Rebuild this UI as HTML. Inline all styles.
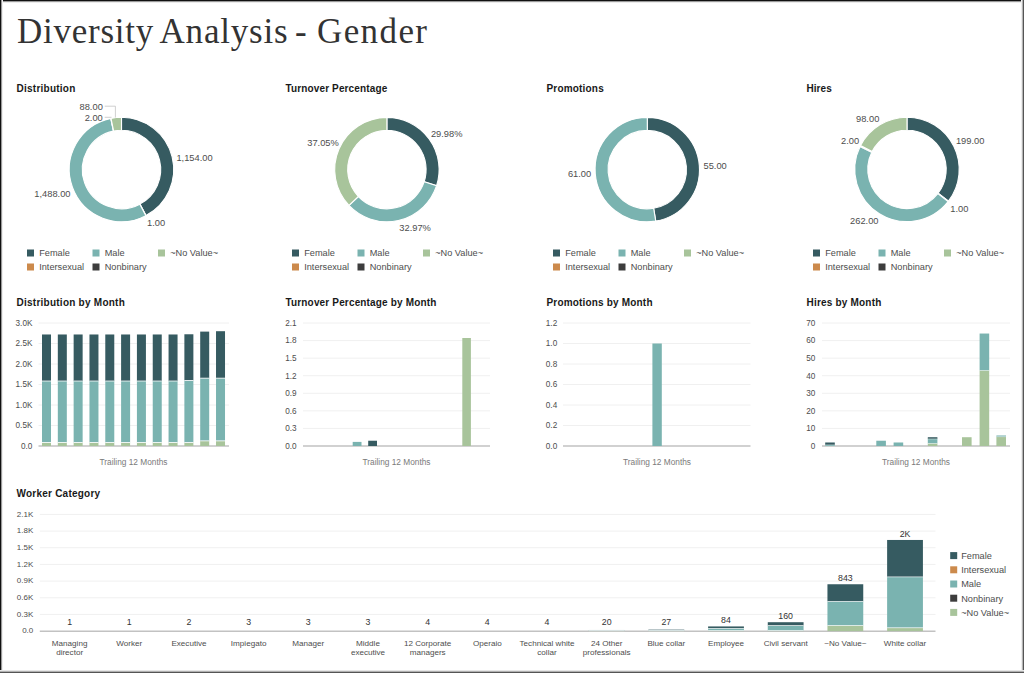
<!DOCTYPE html>
<html><head><meta charset="utf-8"><style>
html,body{margin:0;padding:0;background:#fff;}
body{width:1024px;height:673px;overflow:hidden;position:relative;font-family:"Liberation Sans", sans-serif;}
svg{position:absolute;left:0;top:0;}
svg text{font-family:"Liberation Sans", sans-serif;}
.title{position:absolute;left:17px;top:11.5px;font-family:"Liberation Serif",serif;font-size:35px;color:#333;white-space:nowrap;letter-spacing:0.75px;}
.b{position:absolute;}
</style></head><body>
<div class="title" style="left:17px">Diversity</div>
<div class="title" style="left:159.5px;letter-spacing:0.8px">Analysis</div>
<div class="title" style="left:295px">-</div>
<div class="title" style="left:317px;letter-spacing:1.4px">Gender</div>
<svg width="1024" height="673" viewBox="0 0 1024 673">
<text x="16.5" y="91.5" font-size="10" fill="#191919" text-anchor="start" font-weight="bold" textLength="58.8" lengthAdjust="spacing">Distribution</text>
<text x="285.5" y="91.5" font-size="10" fill="#191919" text-anchor="start" font-weight="bold" textLength="101.7" lengthAdjust="spacing">Turnover Percentage</text>
<text x="546.5" y="91.5" font-size="10" fill="#191919" text-anchor="start" font-weight="bold" textLength="57.199999999999996" lengthAdjust="spacing">Promotions</text>
<text x="806.5" y="91.5" font-size="10" fill="#191919" text-anchor="start" font-weight="bold" textLength="25.2" lengthAdjust="spacing">Hires</text>
<text x="16.5" y="305.5" font-size="10" fill="#191919" text-anchor="start" font-weight="bold" textLength="108.30000000000001" lengthAdjust="spacing">Distribution by Month</text>
<text x="285.5" y="305.5" font-size="10" fill="#191919" text-anchor="start" font-weight="bold" textLength="150.8" lengthAdjust="spacing">Turnover Percentage by Month</text>
<text x="546.5" y="305.5" font-size="10" fill="#191919" text-anchor="start" font-weight="bold" textLength="106.0" lengthAdjust="spacing">Promotions by Month</text>
<text x="806.5" y="305.5" font-size="10" fill="#191919" text-anchor="start" font-weight="bold" textLength="74.80000000000001" lengthAdjust="spacing">Hires by Month</text>
<text x="16.5" y="497" font-size="10" fill="#191919" text-anchor="start" font-weight="bold" textLength="83.60000000000001" lengthAdjust="spacing">Worker Category</text>
<path d="M121.50,117.30 A52.2,52.2 0 0 1 146.00,215.59 L139.90,204.11 A39.2,39.2 0 0 0 121.50,130.30 Z" fill="#365b61" stroke="#fff" stroke-width="1.1"/>
<path d="M146.00,215.59 A52.2,52.2 0 0 1 145.89,215.65 L139.82,204.16 A39.2,39.2 0 0 0 139.90,204.11 Z" fill="#cc8a4c" stroke="#fff" stroke-width="1.1"/>
<path d="M145.89,215.65 A52.2,52.2 0 1 1 110.78,118.41 L113.45,131.14 A39.2,39.2 0 1 0 139.82,204.16 Z" fill="#7ab3b0" stroke="#fff" stroke-width="1.1"/>
<path d="M110.78,118.41 A52.2,52.2 0 0 1 111.01,118.36 L113.62,131.10 A39.2,39.2 0 0 0 113.45,131.14 Z" fill="#3d3d3d" stroke="#fff" stroke-width="1.1"/>
<path d="M111.01,118.36 A52.2,52.2 0 0 1 121.50,117.30 L121.50,130.30 A39.2,39.2 0 0 0 113.62,131.10 Z" fill="#a8c49b" stroke="#fff" stroke-width="1.1"/>
<path d="M386.90,117.40 A52.2,52.2 0 0 1 436.57,185.67 L424.20,181.67 A39.2,39.2 0 0 0 386.90,130.40 Z" fill="#365b61" stroke="#fff" stroke-width="1.1"/>
<path d="M436.57,185.67 A52.2,52.2 0 0 1 348.96,205.45 L358.41,196.52 A39.2,39.2 0 0 0 424.20,181.67 Z" fill="#7ab3b0" stroke="#fff" stroke-width="1.1"/>
<path d="M348.96,205.45 A52.2,52.2 0 0 1 386.90,117.40 L386.90,130.40 A39.2,39.2 0 0 0 358.41,196.52 Z" fill="#a8c49b" stroke="#fff" stroke-width="1.1"/>
<path d="M647.30,117.40 A52.2,52.2 0 0 1 655.75,221.11 L653.64,208.28 A39.2,39.2 0 0 0 647.30,130.40 Z" fill="#365b61" stroke="#fff" stroke-width="1.1"/>
<path d="M655.75,221.11 A52.2,52.2 0 1 1 647.30,117.40 L647.30,130.40 A39.2,39.2 0 1 0 653.64,208.28 Z" fill="#7ab3b0" stroke="#fff" stroke-width="1.1"/>
<path d="M907.00,117.20 A52.2,52.2 0 0 1 948.43,201.16 L938.11,193.25 A39.2,39.2 0 0 0 907.00,130.20 Z" fill="#365b61" stroke="#fff" stroke-width="1.1"/>
<path d="M948.43,201.16 A52.2,52.2 0 0 1 948.07,201.62 L937.84,193.60 A39.2,39.2 0 0 0 938.11,193.25 Z" fill="#cc8a4c" stroke="#fff" stroke-width="1.1"/>
<path d="M948.07,201.62 A52.2,52.2 0 0 1 860.06,146.56 L871.75,152.25 A39.2,39.2 0 0 0 937.84,193.60 Z" fill="#7ab3b0" stroke="#fff" stroke-width="1.1"/>
<path d="M860.06,146.56 A52.2,52.2 0 0 1 860.58,145.52 L872.14,151.47 A39.2,39.2 0 0 0 871.75,152.25 Z" fill="#3d3d3d" stroke="#fff" stroke-width="1.1"/>
<path d="M860.58,145.52 A52.2,52.2 0 0 1 907.00,117.20 L907.00,130.20 A39.2,39.2 0 0 0 872.14,151.47 Z" fill="#a8c49b" stroke="#fff" stroke-width="1.1"/>
<rect x="27.00" y="249.50" width="7.00" height="7.00" fill="#365b61"/>
<text x="39.2" y="256.3" font-size="9.2" fill="#4d4d4d" text-anchor="start" font-weight="normal" >Female</text>
<rect x="92.50" y="249.50" width="7.00" height="7.00" fill="#7ab3b0"/>
<text x="104.7" y="256.3" font-size="9.2" fill="#4d4d4d" text-anchor="start" font-weight="normal" >Male</text>
<rect x="158.00" y="249.50" width="7.00" height="7.00" fill="#a8c49b"/>
<text x="170.2" y="256.3" font-size="9.2" fill="#4d4d4d" text-anchor="start" font-weight="normal" >~No Value~</text>
<rect x="27.00" y="263.50" width="7.00" height="7.00" fill="#cc8a4c"/>
<text x="39.2" y="270.3" font-size="9.2" fill="#4d4d4d" text-anchor="start" font-weight="normal" >Intersexual</text>
<rect x="92.50" y="263.50" width="7.00" height="7.00" fill="#3d3d3d"/>
<text x="104.7" y="270.3" font-size="9.2" fill="#4d4d4d" text-anchor="start" font-weight="normal" >Nonbinary</text>
<rect x="292.00" y="249.50" width="7.00" height="7.00" fill="#365b61"/>
<text x="304.2" y="256.3" font-size="9.2" fill="#4d4d4d" text-anchor="start" font-weight="normal" >Female</text>
<rect x="357.50" y="249.50" width="7.00" height="7.00" fill="#7ab3b0"/>
<text x="369.7" y="256.3" font-size="9.2" fill="#4d4d4d" text-anchor="start" font-weight="normal" >Male</text>
<rect x="423.00" y="249.50" width="7.00" height="7.00" fill="#a8c49b"/>
<text x="435.2" y="256.3" font-size="9.2" fill="#4d4d4d" text-anchor="start" font-weight="normal" >~No Value~</text>
<rect x="292.00" y="263.50" width="7.00" height="7.00" fill="#cc8a4c"/>
<text x="304.2" y="270.3" font-size="9.2" fill="#4d4d4d" text-anchor="start" font-weight="normal" >Intersexual</text>
<rect x="357.50" y="263.50" width="7.00" height="7.00" fill="#3d3d3d"/>
<text x="369.7" y="270.3" font-size="9.2" fill="#4d4d4d" text-anchor="start" font-weight="normal" >Nonbinary</text>
<rect x="553.00" y="249.50" width="7.00" height="7.00" fill="#365b61"/>
<text x="565.2" y="256.3" font-size="9.2" fill="#4d4d4d" text-anchor="start" font-weight="normal" >Female</text>
<rect x="618.50" y="249.50" width="7.00" height="7.00" fill="#7ab3b0"/>
<text x="630.7" y="256.3" font-size="9.2" fill="#4d4d4d" text-anchor="start" font-weight="normal" >Male</text>
<rect x="684.00" y="249.50" width="7.00" height="7.00" fill="#a8c49b"/>
<text x="696.2" y="256.3" font-size="9.2" fill="#4d4d4d" text-anchor="start" font-weight="normal" >~No Value~</text>
<rect x="553.00" y="263.50" width="7.00" height="7.00" fill="#cc8a4c"/>
<text x="565.2" y="270.3" font-size="9.2" fill="#4d4d4d" text-anchor="start" font-weight="normal" >Intersexual</text>
<rect x="618.50" y="263.50" width="7.00" height="7.00" fill="#3d3d3d"/>
<text x="630.7" y="270.3" font-size="9.2" fill="#4d4d4d" text-anchor="start" font-weight="normal" >Nonbinary</text>
<rect x="813.00" y="249.50" width="7.00" height="7.00" fill="#365b61"/>
<text x="825.2" y="256.3" font-size="9.2" fill="#4d4d4d" text-anchor="start" font-weight="normal" >Female</text>
<rect x="878.50" y="249.50" width="7.00" height="7.00" fill="#7ab3b0"/>
<text x="890.7" y="256.3" font-size="9.2" fill="#4d4d4d" text-anchor="start" font-weight="normal" >Male</text>
<rect x="944.00" y="249.50" width="7.00" height="7.00" fill="#a8c49b"/>
<text x="956.2" y="256.3" font-size="9.2" fill="#4d4d4d" text-anchor="start" font-weight="normal" >~No Value~</text>
<rect x="813.00" y="263.50" width="7.00" height="7.00" fill="#cc8a4c"/>
<text x="825.2" y="270.3" font-size="9.2" fill="#4d4d4d" text-anchor="start" font-weight="normal" >Intersexual</text>
<rect x="878.50" y="263.50" width="7.00" height="7.00" fill="#3d3d3d"/>
<text x="890.7" y="270.3" font-size="9.2" fill="#4d4d4d" text-anchor="start" font-weight="normal" >Nonbinary</text>
<text x="102.8" y="110.10000000000001" font-size="9.3" fill="#4d4d4d" text-anchor="end" font-weight="normal" >88.00</text>
<text x="102.8" y="120.9" font-size="9.3" fill="#4d4d4d" text-anchor="end" font-weight="normal" >2.00</text>
<polyline points="104.7,106.2 115.4,106.2 115.4,117.5" fill="none" stroke="#bbb" stroke-width="0.7"/>
<polyline points="104.7,117.3 111.5,117.3" fill="none" stroke="#bbb" stroke-width="0.7"/>
<text x="176.4" y="160.5" font-size="9.3" fill="#4d4d4d" text-anchor="start" font-weight="normal" >1,154.00</text>
<text x="70.5" y="197.20000000000002" font-size="9.3" fill="#4d4d4d" text-anchor="end" font-weight="normal" >1,488.00</text>
<text x="147.1" y="226.3" font-size="9.3" fill="#4d4d4d" text-anchor="start" font-weight="normal" >1.00</text>
<text x="430.9" y="136.8" font-size="9.3" fill="#4d4d4d" text-anchor="start" font-weight="normal" >29.98%</text>
<text x="338.8" y="146.20000000000002" font-size="9.3" fill="#4d4d4d" text-anchor="end" font-weight="normal" >37.05%</text>
<text x="399.3" y="231.4" font-size="9.3" fill="#4d4d4d" text-anchor="start" font-weight="normal" >32.97%</text>
<text x="703.5" y="168.6" font-size="9.3" fill="#4d4d4d" text-anchor="start" font-weight="normal" >55.00</text>
<text x="591.2" y="177.4" font-size="9.3" fill="#4d4d4d" text-anchor="end" font-weight="normal" >61.00</text>
<text x="879.3" y="122.10000000000001" font-size="9.3" fill="#4d4d4d" text-anchor="end" font-weight="normal" >98.00</text>
<text x="859.1" y="144.0" font-size="9.3" fill="#4d4d4d" text-anchor="end" font-weight="normal" >2.00</text>
<text x="955.9" y="144.4" font-size="9.3" fill="#4d4d4d" text-anchor="start" font-weight="normal" >199.00</text>
<text x="950.3" y="212.0" font-size="9.3" fill="#4d4d4d" text-anchor="start" font-weight="normal" >1.00</text>
<text x="878.5" y="224.1" font-size="9.3" fill="#4d4d4d" text-anchor="end" font-weight="normal" >262.00</text>
<text x="32.4" y="448.8" font-size="8.2" fill="#4d4d4d" text-anchor="end" font-weight="normal" >0.0</text>
<line x1="38.5" y1="425.5" x2="229" y2="425.5" stroke="#f0f0f0" stroke-width="1"/>
<text x="32.4" y="428.3" font-size="8.2" fill="#4d4d4d" text-anchor="end" font-weight="normal" >0.5K</text>
<line x1="38.5" y1="405.0" x2="229" y2="405.0" stroke="#f0f0f0" stroke-width="1"/>
<text x="32.4" y="407.8" font-size="8.2" fill="#4d4d4d" text-anchor="end" font-weight="normal" >1.0K</text>
<line x1="38.5" y1="384.5" x2="229" y2="384.5" stroke="#f0f0f0" stroke-width="1"/>
<text x="32.4" y="387.3" font-size="8.2" fill="#4d4d4d" text-anchor="end" font-weight="normal" >1.5K</text>
<line x1="38.5" y1="364.0" x2="229" y2="364.0" stroke="#f0f0f0" stroke-width="1"/>
<text x="32.4" y="366.8" font-size="8.2" fill="#4d4d4d" text-anchor="end" font-weight="normal" >2.0K</text>
<line x1="38.5" y1="343.5" x2="229" y2="343.5" stroke="#f0f0f0" stroke-width="1"/>
<text x="32.4" y="346.3" font-size="8.2" fill="#4d4d4d" text-anchor="end" font-weight="normal" >2.5K</text>
<line x1="38.5" y1="323.0" x2="229" y2="323.0" stroke="#f0f0f0" stroke-width="1"/>
<text x="32.4" y="325.8" font-size="8.2" fill="#4d4d4d" text-anchor="end" font-weight="normal" >3.0K</text>
<line x1="38.5" y1="446" x2="229" y2="446" stroke="#c2c2c2" stroke-width="1.6"/>
<rect x="42.00" y="442.51" width="9.00" height="3.49" fill="#a8c49b"/>
<rect x="42.00" y="381.01" width="9.00" height="61.50" fill="#7ab3b0"/>
<rect x="42.00" y="442.12" width="9.00" height="0.80" fill="#fff"/>
<rect x="42.00" y="334.48" width="9.00" height="46.54" fill="#365b61"/>
<rect x="42.00" y="380.62" width="9.00" height="0.80" fill="#fff"/>
<rect x="57.82" y="442.51" width="9.00" height="3.49" fill="#a8c49b"/>
<rect x="57.82" y="381.01" width="9.00" height="61.50" fill="#7ab3b0"/>
<rect x="57.82" y="442.12" width="9.00" height="0.80" fill="#fff"/>
<rect x="57.82" y="334.48" width="9.00" height="46.54" fill="#365b61"/>
<rect x="57.82" y="380.62" width="9.00" height="0.80" fill="#fff"/>
<rect x="73.64" y="442.51" width="9.00" height="3.49" fill="#a8c49b"/>
<rect x="73.64" y="381.01" width="9.00" height="61.50" fill="#7ab3b0"/>
<rect x="73.64" y="442.12" width="9.00" height="0.80" fill="#fff"/>
<rect x="73.64" y="334.48" width="9.00" height="46.54" fill="#365b61"/>
<rect x="73.64" y="380.62" width="9.00" height="0.80" fill="#fff"/>
<rect x="89.46" y="442.51" width="9.00" height="3.49" fill="#a8c49b"/>
<rect x="89.46" y="381.01" width="9.00" height="61.50" fill="#7ab3b0"/>
<rect x="89.46" y="442.12" width="9.00" height="0.80" fill="#fff"/>
<rect x="89.46" y="334.48" width="9.00" height="46.54" fill="#365b61"/>
<rect x="89.46" y="380.62" width="9.00" height="0.80" fill="#fff"/>
<rect x="105.28" y="442.51" width="9.00" height="3.49" fill="#a8c49b"/>
<rect x="105.28" y="381.01" width="9.00" height="61.50" fill="#7ab3b0"/>
<rect x="105.28" y="442.12" width="9.00" height="0.80" fill="#fff"/>
<rect x="105.28" y="334.48" width="9.00" height="46.54" fill="#365b61"/>
<rect x="105.28" y="380.62" width="9.00" height="0.80" fill="#fff"/>
<rect x="121.10" y="442.51" width="9.00" height="3.49" fill="#a8c49b"/>
<rect x="121.10" y="381.01" width="9.00" height="61.50" fill="#7ab3b0"/>
<rect x="121.10" y="442.12" width="9.00" height="0.80" fill="#fff"/>
<rect x="121.10" y="334.48" width="9.00" height="46.54" fill="#365b61"/>
<rect x="121.10" y="380.62" width="9.00" height="0.80" fill="#fff"/>
<rect x="136.92" y="442.51" width="9.00" height="3.49" fill="#a8c49b"/>
<rect x="136.92" y="381.01" width="9.00" height="61.50" fill="#7ab3b0"/>
<rect x="136.92" y="442.12" width="9.00" height="0.80" fill="#fff"/>
<rect x="136.92" y="334.48" width="9.00" height="46.54" fill="#365b61"/>
<rect x="136.92" y="380.62" width="9.00" height="0.80" fill="#fff"/>
<rect x="152.74" y="442.51" width="9.00" height="3.49" fill="#a8c49b"/>
<rect x="152.74" y="381.01" width="9.00" height="61.50" fill="#7ab3b0"/>
<rect x="152.74" y="442.12" width="9.00" height="0.80" fill="#fff"/>
<rect x="152.74" y="334.48" width="9.00" height="46.54" fill="#365b61"/>
<rect x="152.74" y="380.62" width="9.00" height="0.80" fill="#fff"/>
<rect x="168.56" y="442.51" width="9.00" height="3.49" fill="#a8c49b"/>
<rect x="168.56" y="381.01" width="9.00" height="61.50" fill="#7ab3b0"/>
<rect x="168.56" y="442.12" width="9.00" height="0.80" fill="#fff"/>
<rect x="168.56" y="334.48" width="9.00" height="46.54" fill="#365b61"/>
<rect x="168.56" y="380.62" width="9.00" height="0.80" fill="#fff"/>
<rect x="184.38" y="442.51" width="9.00" height="3.49" fill="#a8c49b"/>
<rect x="184.38" y="380.40" width="9.00" height="62.12" fill="#7ab3b0"/>
<rect x="184.38" y="442.12" width="9.00" height="0.80" fill="#fff"/>
<rect x="184.38" y="334.27" width="9.00" height="46.12" fill="#365b61"/>
<rect x="184.38" y="380.00" width="9.00" height="0.80" fill="#fff"/>
<rect x="200.20" y="440.88" width="9.00" height="5.12" fill="#a8c49b"/>
<rect x="200.20" y="378.14" width="9.00" height="62.73" fill="#7ab3b0"/>
<rect x="200.20" y="440.48" width="9.00" height="0.80" fill="#fff"/>
<rect x="200.20" y="331.61" width="9.00" height="46.54" fill="#365b61"/>
<rect x="200.20" y="377.75" width="9.00" height="0.80" fill="#fff"/>
<rect x="216.02" y="440.88" width="9.00" height="5.12" fill="#a8c49b"/>
<rect x="216.02" y="378.14" width="9.00" height="62.73" fill="#7ab3b0"/>
<rect x="216.02" y="440.48" width="9.00" height="0.80" fill="#fff"/>
<rect x="216.02" y="331.20" width="9.00" height="46.95" fill="#365b61"/>
<rect x="216.02" y="377.75" width="9.00" height="0.80" fill="#fff"/>
<text x="133.5" y="465" font-size="8.3" fill="#7a7a7a" text-anchor="middle" font-weight="normal" >Trailing 12 Months</text>
<text x="296.6" y="448.8" font-size="8.2" fill="#4d4d4d" text-anchor="end" font-weight="normal" >0.0</text>
<line x1="303" y1="428.42857142857144" x2="490" y2="428.42857142857144" stroke="#f0f0f0" stroke-width="1"/>
<text x="296.6" y="431.22857142857146" font-size="8.2" fill="#4d4d4d" text-anchor="end" font-weight="normal" >0.3</text>
<line x1="303" y1="410.85714285714283" x2="490" y2="410.85714285714283" stroke="#f0f0f0" stroke-width="1"/>
<text x="296.6" y="413.65714285714284" font-size="8.2" fill="#4d4d4d" text-anchor="end" font-weight="normal" >0.6</text>
<line x1="303" y1="393.2857142857143" x2="490" y2="393.2857142857143" stroke="#f0f0f0" stroke-width="1"/>
<text x="296.6" y="396.0857142857143" font-size="8.2" fill="#4d4d4d" text-anchor="end" font-weight="normal" >0.9</text>
<line x1="303" y1="375.7142857142857" x2="490" y2="375.7142857142857" stroke="#f0f0f0" stroke-width="1"/>
<text x="296.6" y="378.51428571428573" font-size="8.2" fill="#4d4d4d" text-anchor="end" font-weight="normal" >1.2</text>
<line x1="303" y1="358.1428571428571" x2="490" y2="358.1428571428571" stroke="#f0f0f0" stroke-width="1"/>
<text x="296.6" y="360.9428571428571" font-size="8.2" fill="#4d4d4d" text-anchor="end" font-weight="normal" >1.5</text>
<line x1="303" y1="340.57142857142856" x2="490" y2="340.57142857142856" stroke="#f0f0f0" stroke-width="1"/>
<text x="296.6" y="343.37142857142857" font-size="8.2" fill="#4d4d4d" text-anchor="end" font-weight="normal" >1.8</text>
<line x1="303" y1="323.0" x2="490" y2="323.0" stroke="#f0f0f0" stroke-width="1"/>
<text x="296.6" y="325.8" font-size="8.2" fill="#4d4d4d" text-anchor="end" font-weight="normal" >2.1</text>
<line x1="303" y1="446" x2="490" y2="446" stroke="#c2c2c2" stroke-width="1.6"/>
<rect x="352.70" y="441.90" width="8.80" height="4.10" fill="#7ab3b0"/>
<rect x="368.20" y="440.73" width="8.80" height="5.27" fill="#365b61"/>
<rect x="462.30" y="338.00" width="8.60" height="108.00" fill="#a8c49b"/>
<text x="396.5" y="465" font-size="8.3" fill="#7a7a7a" text-anchor="middle" font-weight="normal" >Trailing 12 Months</text>
<text x="557.2" y="448.8" font-size="8.2" fill="#4d4d4d" text-anchor="end" font-weight="normal" >0.0</text>
<line x1="563" y1="425.5" x2="750.5" y2="425.5" stroke="#f0f0f0" stroke-width="1"/>
<text x="557.2" y="428.3" font-size="8.2" fill="#4d4d4d" text-anchor="end" font-weight="normal" >0.2</text>
<line x1="563" y1="405.0" x2="750.5" y2="405.0" stroke="#f0f0f0" stroke-width="1"/>
<text x="557.2" y="407.8" font-size="8.2" fill="#4d4d4d" text-anchor="end" font-weight="normal" >0.4</text>
<line x1="563" y1="384.5" x2="750.5" y2="384.5" stroke="#f0f0f0" stroke-width="1"/>
<text x="557.2" y="387.3" font-size="8.2" fill="#4d4d4d" text-anchor="end" font-weight="normal" >0.6</text>
<line x1="563" y1="364.0" x2="750.5" y2="364.0" stroke="#f0f0f0" stroke-width="1"/>
<text x="557.2" y="366.8" font-size="8.2" fill="#4d4d4d" text-anchor="end" font-weight="normal" >0.8</text>
<line x1="563" y1="343.5" x2="750.5" y2="343.5" stroke="#f0f0f0" stroke-width="1"/>
<text x="557.2" y="346.3" font-size="8.2" fill="#4d4d4d" text-anchor="end" font-weight="normal" >1.0</text>
<line x1="563" y1="323.0" x2="750.5" y2="323.0" stroke="#f0f0f0" stroke-width="1"/>
<text x="557.2" y="325.8" font-size="8.2" fill="#4d4d4d" text-anchor="end" font-weight="normal" >1.2</text>
<line x1="563" y1="446" x2="750.5" y2="446" stroke="#c2c2c2" stroke-width="1.6"/>
<rect x="652.40" y="343.50" width="9.40" height="102.50" fill="#7ab3b0"/>
<text x="657" y="465" font-size="8.3" fill="#7a7a7a" text-anchor="middle" font-weight="normal" >Trailing 12 Months</text>
<text x="815.4" y="448.8" font-size="8.2" fill="#4d4d4d" text-anchor="end" font-weight="normal" >0</text>
<line x1="822" y1="428.42857142857144" x2="1010" y2="428.42857142857144" stroke="#f0f0f0" stroke-width="1"/>
<text x="815.4" y="431.22857142857146" font-size="8.2" fill="#4d4d4d" text-anchor="end" font-weight="normal" >10</text>
<line x1="822" y1="410.85714285714283" x2="1010" y2="410.85714285714283" stroke="#f0f0f0" stroke-width="1"/>
<text x="815.4" y="413.65714285714284" font-size="8.2" fill="#4d4d4d" text-anchor="end" font-weight="normal" >20</text>
<line x1="822" y1="393.2857142857143" x2="1010" y2="393.2857142857143" stroke="#f0f0f0" stroke-width="1"/>
<text x="815.4" y="396.0857142857143" font-size="8.2" fill="#4d4d4d" text-anchor="end" font-weight="normal" >30</text>
<line x1="822" y1="375.7142857142857" x2="1010" y2="375.7142857142857" stroke="#f0f0f0" stroke-width="1"/>
<text x="815.4" y="378.51428571428573" font-size="8.2" fill="#4d4d4d" text-anchor="end" font-weight="normal" >40</text>
<line x1="822" y1="358.1428571428571" x2="1010" y2="358.1428571428571" stroke="#f0f0f0" stroke-width="1"/>
<text x="815.4" y="360.9428571428571" font-size="8.2" fill="#4d4d4d" text-anchor="end" font-weight="normal" >50</text>
<line x1="822" y1="340.57142857142856" x2="1010" y2="340.57142857142856" stroke="#f0f0f0" stroke-width="1"/>
<text x="815.4" y="343.37142857142857" font-size="8.2" fill="#4d4d4d" text-anchor="end" font-weight="normal" >60</text>
<line x1="822" y1="323.0" x2="1010" y2="323.0" stroke="#f0f0f0" stroke-width="1"/>
<text x="815.4" y="325.8" font-size="8.2" fill="#4d4d4d" text-anchor="end" font-weight="normal" >70</text>
<line x1="822" y1="446" x2="1010" y2="446" stroke="#c2c2c2" stroke-width="1.6"/>
<rect x="825.20" y="444.95" width="9.60" height="1.05" fill="#7ab3b0"/>
<rect x="825.20" y="442.49" width="9.60" height="2.46" fill="#365b61"/>
<rect x="825.20" y="444.75" width="9.60" height="0.40" fill="#fff"/>
<rect x="876.30" y="440.73" width="9.60" height="5.27" fill="#7ab3b0"/>
<rect x="893.60" y="442.49" width="9.60" height="3.51" fill="#7ab3b0"/>
<rect x="927.80" y="443.36" width="9.60" height="2.64" fill="#a8c49b"/>
<rect x="927.80" y="438.97" width="9.60" height="4.39" fill="#7ab3b0"/>
<rect x="927.80" y="443.16" width="9.60" height="0.40" fill="#fff"/>
<rect x="927.80" y="437.21" width="9.60" height="1.76" fill="#365b61"/>
<rect x="927.80" y="438.77" width="9.60" height="0.40" fill="#fff"/>
<rect x="962.00" y="437.21" width="9.60" height="8.79" fill="#a8c49b"/>
<rect x="979.60" y="370.44" width="9.60" height="75.56" fill="#a8c49b"/>
<rect x="979.60" y="333.54" width="9.60" height="36.90" fill="#7ab3b0"/>
<rect x="979.60" y="370.24" width="9.60" height="0.40" fill="#fff"/>
<rect x="996.40" y="436.86" width="9.60" height="9.14" fill="#a8c49b"/>
<rect x="996.40" y="435.46" width="9.60" height="1.41" fill="#7ab3b0"/>
<rect x="996.40" y="436.66" width="9.60" height="0.40" fill="#fff"/>
<text x="916" y="465" font-size="8.3" fill="#7a7a7a" text-anchor="middle" font-weight="normal" >Trailing 12 Months</text>
<text x="33.3" y="633.3000000000001" font-size="8.0" fill="#4d4d4d" text-anchor="end" font-weight="normal" >0.0</text>
<line x1="39.8" y1="614.4285714285714" x2="935.5" y2="614.4285714285714" stroke="#f0f0f0" stroke-width="1"/>
<text x="33.3" y="616.6285714285715" font-size="8.0" fill="#4d4d4d" text-anchor="end" font-weight="normal" >0.3K</text>
<line x1="39.8" y1="597.7571428571429" x2="935.5" y2="597.7571428571429" stroke="#f0f0f0" stroke-width="1"/>
<text x="33.3" y="599.9571428571429" font-size="8.0" fill="#4d4d4d" text-anchor="end" font-weight="normal" >0.6K</text>
<line x1="39.8" y1="581.0857142857143" x2="935.5" y2="581.0857142857143" stroke="#f0f0f0" stroke-width="1"/>
<text x="33.3" y="583.2857142857143" font-size="8.0" fill="#4d4d4d" text-anchor="end" font-weight="normal" >0.9K</text>
<line x1="39.8" y1="564.4142857142857" x2="935.5" y2="564.4142857142857" stroke="#f0f0f0" stroke-width="1"/>
<text x="33.3" y="566.6142857142858" font-size="8.0" fill="#4d4d4d" text-anchor="end" font-weight="normal" >1.2K</text>
<line x1="39.8" y1="547.7428571428571" x2="935.5" y2="547.7428571428571" stroke="#f0f0f0" stroke-width="1"/>
<text x="33.3" y="549.9428571428572" font-size="8.0" fill="#4d4d4d" text-anchor="end" font-weight="normal" >1.5K</text>
<line x1="39.8" y1="531.0714285714286" x2="935.5" y2="531.0714285714286" stroke="#f0f0f0" stroke-width="1"/>
<text x="33.3" y="533.2714285714286" font-size="8.0" fill="#4d4d4d" text-anchor="end" font-weight="normal" >1.8K</text>
<line x1="39.8" y1="514.4" x2="935.5" y2="514.4" stroke="#f0f0f0" stroke-width="1"/>
<text x="33.3" y="516.6" font-size="8.0" fill="#4d4d4d" text-anchor="end" font-weight="normal" >2.1K</text>
<line x1="39.8" y1="631.2" x2="935.5" y2="631.2" stroke="#c2c2c2" stroke-width="1.6"/>
<text x="69.63499999999999" y="645.5" font-size="8.1" fill="#4d4d4d" text-anchor="middle" font-weight="normal" >Managing</text>
<text x="69.63499999999999" y="655.1" font-size="8.1" fill="#4d4d4d" text-anchor="middle" font-weight="normal" >director</text>
<text x="69.63499999999999" y="624.9" font-size="8.8" fill="#333" text-anchor="middle" font-weight="normal" >1</text>
<text x="129.305" y="645.5" font-size="8.1" fill="#4d4d4d" text-anchor="middle" font-weight="normal" >Worker</text>
<text x="129.305" y="624.9" font-size="8.8" fill="#333" text-anchor="middle" font-weight="normal" >1</text>
<text x="188.97500000000002" y="645.5" font-size="8.1" fill="#4d4d4d" text-anchor="middle" font-weight="normal" >Executive</text>
<text x="188.97500000000002" y="624.9" font-size="8.8" fill="#333" text-anchor="middle" font-weight="normal" >2</text>
<text x="248.64499999999998" y="645.5" font-size="8.1" fill="#4d4d4d" text-anchor="middle" font-weight="normal" >Impiegato</text>
<text x="248.64499999999998" y="624.9" font-size="8.8" fill="#333" text-anchor="middle" font-weight="normal" >3</text>
<text x="308.315" y="645.5" font-size="8.1" fill="#4d4d4d" text-anchor="middle" font-weight="normal" >Manager</text>
<text x="308.315" y="624.9" font-size="8.8" fill="#333" text-anchor="middle" font-weight="normal" >3</text>
<text x="367.985" y="645.5" font-size="8.1" fill="#4d4d4d" text-anchor="middle" font-weight="normal" >Middle</text>
<text x="367.985" y="655.1" font-size="8.1" fill="#4d4d4d" text-anchor="middle" font-weight="normal" >executive</text>
<text x="367.985" y="624.9" font-size="8.8" fill="#333" text-anchor="middle" font-weight="normal" >3</text>
<text x="427.65500000000003" y="645.5" font-size="8.1" fill="#4d4d4d" text-anchor="middle" font-weight="normal" >12 Corporate</text>
<text x="427.65500000000003" y="655.1" font-size="8.1" fill="#4d4d4d" text-anchor="middle" font-weight="normal" >managers</text>
<text x="427.65500000000003" y="624.9" font-size="8.8" fill="#333" text-anchor="middle" font-weight="normal" >4</text>
<text x="487.32500000000005" y="645.5" font-size="8.1" fill="#4d4d4d" text-anchor="middle" font-weight="normal" >Operaio</text>
<text x="487.32500000000005" y="624.9" font-size="8.8" fill="#333" text-anchor="middle" font-weight="normal" >4</text>
<text x="546.995" y="645.5" font-size="8.1" fill="#4d4d4d" text-anchor="middle" font-weight="normal" >Technical white</text>
<text x="546.995" y="655.1" font-size="8.1" fill="#4d4d4d" text-anchor="middle" font-weight="normal" >collar</text>
<text x="546.995" y="624.9" font-size="8.8" fill="#333" text-anchor="middle" font-weight="normal" >4</text>
<text x="606.665" y="645.5" font-size="8.1" fill="#4d4d4d" text-anchor="middle" font-weight="normal" >24 Other</text>
<text x="606.665" y="655.1" font-size="8.1" fill="#4d4d4d" text-anchor="middle" font-weight="normal" >professionals</text>
<rect x="588.76" y="630.82" width="35.80" height="0.28" fill="#a8c49b"/>
<rect x="588.76" y="630.27" width="35.80" height="0.56" fill="#7ab3b0"/>
<rect x="588.76" y="630.52" width="35.80" height="0.60" fill="#fff"/>
<rect x="588.76" y="629.99" width="35.80" height="0.28" fill="#365b61"/>
<rect x="588.76" y="629.97" width="35.80" height="0.60" fill="#fff"/>
<text x="606.665" y="624.9" font-size="8.8" fill="#333" text-anchor="middle" font-weight="normal" >20</text>
<text x="666.3349999999999" y="645.5" font-size="8.1" fill="#4d4d4d" text-anchor="middle" font-weight="normal" >Blue collar</text>
<rect x="648.43" y="630.82" width="35.80" height="0.28" fill="#a8c49b"/>
<rect x="648.43" y="630.16" width="35.80" height="0.67" fill="#7ab3b0"/>
<rect x="648.43" y="630.52" width="35.80" height="0.60" fill="#fff"/>
<rect x="648.43" y="629.60" width="35.80" height="0.56" fill="#365b61"/>
<rect x="648.43" y="629.86" width="35.80" height="0.60" fill="#fff"/>
<text x="666.3349999999999" y="624.9" font-size="8.8" fill="#333" text-anchor="middle" font-weight="normal" >27</text>
<text x="726.005" y="645.5" font-size="8.1" fill="#4d4d4d" text-anchor="middle" font-weight="normal" >Employee</text>
<rect x="708.11" y="630.66" width="35.80" height="0.44" fill="#a8c49b"/>
<rect x="708.11" y="628.32" width="35.80" height="2.33" fill="#7ab3b0"/>
<rect x="708.11" y="630.36" width="35.80" height="0.60" fill="#fff"/>
<rect x="708.11" y="626.43" width="35.80" height="1.89" fill="#365b61"/>
<rect x="708.11" y="628.02" width="35.80" height="0.60" fill="#fff"/>
<text x="726.005" y="623.1320000000002" font-size="8.8" fill="#333" text-anchor="middle" font-weight="normal" >84</text>
<text x="785.675" y="645.5" font-size="8.1" fill="#4d4d4d" text-anchor="middle" font-weight="normal" >Civil servant</text>
<rect x="767.77" y="630.66" width="35.80" height="0.44" fill="#a8c49b"/>
<rect x="767.77" y="625.54" width="35.80" height="5.11" fill="#7ab3b0"/>
<rect x="767.77" y="630.36" width="35.80" height="0.60" fill="#fff"/>
<rect x="767.77" y="622.21" width="35.80" height="3.33" fill="#365b61"/>
<rect x="767.77" y="625.24" width="35.80" height="0.60" fill="#fff"/>
<text x="785.675" y="618.9085714285716" font-size="8.8" fill="#333" text-anchor="middle" font-weight="normal" >160</text>
<text x="845.345" y="645.5" font-size="8.1" fill="#4d4d4d" text-anchor="middle" font-weight="normal" >~No Value~</text>
<rect x="827.45" y="625.54" width="35.80" height="5.56" fill="#a8c49b"/>
<rect x="827.45" y="601.31" width="35.80" height="24.23" fill="#7ab3b0"/>
<rect x="827.45" y="625.24" width="35.80" height="0.60" fill="#fff"/>
<rect x="827.45" y="584.25" width="35.80" height="17.06" fill="#365b61"/>
<rect x="827.45" y="601.01" width="35.80" height="0.60" fill="#fff"/>
<text x="845.345" y="580.9532857142858" font-size="8.8" fill="#333" text-anchor="middle" font-weight="normal" >843</text>
<text x="905.015" y="645.5" font-size="8.1" fill="#4d4d4d" text-anchor="middle" font-weight="normal" >White collar</text>
<rect x="887.12" y="627.82" width="35.80" height="3.28" fill="#a8c49b"/>
<rect x="887.12" y="576.92" width="35.80" height="50.90" fill="#7ab3b0"/>
<rect x="887.12" y="627.52" width="35.80" height="0.60" fill="#fff"/>
<rect x="887.12" y="539.96" width="35.80" height="36.96" fill="#365b61"/>
<rect x="887.12" y="576.62" width="35.80" height="0.60" fill="#fff"/>
<text x="905.015" y="536.6628571428572" font-size="8.8" fill="#333" text-anchor="middle" font-weight="normal" >2K</text>
<rect x="950.20" y="552.10" width="7.00" height="7.00" fill="#365b61"/>
<text x="961.2" y="558.9" font-size="9.2" fill="#4d4d4d" text-anchor="start" font-weight="normal" >Female</text>
<rect x="950.20" y="566.30" width="7.00" height="7.00" fill="#cc8a4c"/>
<text x="961.2" y="573.1" font-size="9.2" fill="#4d4d4d" text-anchor="start" font-weight="normal" >Intersexual</text>
<rect x="950.20" y="580.50" width="7.00" height="7.00" fill="#7ab3b0"/>
<text x="961.2" y="587.3" font-size="9.2" fill="#4d4d4d" text-anchor="start" font-weight="normal" >Male</text>
<rect x="950.20" y="594.70" width="7.00" height="7.00" fill="#3d3d3d"/>
<text x="961.2" y="601.5" font-size="9.2" fill="#4d4d4d" text-anchor="start" font-weight="normal" >Nonbinary</text>
<rect x="950.20" y="608.90" width="7.00" height="7.00" fill="#a8c49b"/>
<text x="961.2" y="615.6999999999999" font-size="9.2" fill="#4d4d4d" text-anchor="start" font-weight="normal" >~No Value~</text>
</svg>
<div class="b" style="left:0;top:0;width:1024px;height:1px;background:#111"></div>
<div class="b" style="left:0;top:1px;width:1024px;height:1px;background:#9a9a9a"></div>
<div class="b" style="left:0;top:2px;width:1024px;height:1px;background:#ececec"></div>
<div class="b" style="left:0;top:0;width:1px;height:673px;background:#111"></div>
<div class="b" style="left:1px;top:0;width:1px;height:673px;background:#999"></div>
<div class="b" style="left:2px;top:0;width:1px;height:673px;background:#eee"></div>
<div class="b" style="left:1022px;top:0;width:1px;height:673px;background:#b5b5b5"></div>
<div class="b" style="left:1021px;top:0;width:1px;height:673px;background:#eeeeee"></div>
<div class="b" style="left:1023px;top:0;width:1px;height:673px;background:#555"></div>
<div class="b" style="left:0;top:670px;width:1024px;height:1px;background:#e6e6e6"></div>
<div class="b" style="left:0;top:671px;width:1024px;height:1px;background:#b0b0b0"></div>
<div class="b" style="left:0;top:672px;width:1024px;height:1px;background:#555"></div>
</body></html>
